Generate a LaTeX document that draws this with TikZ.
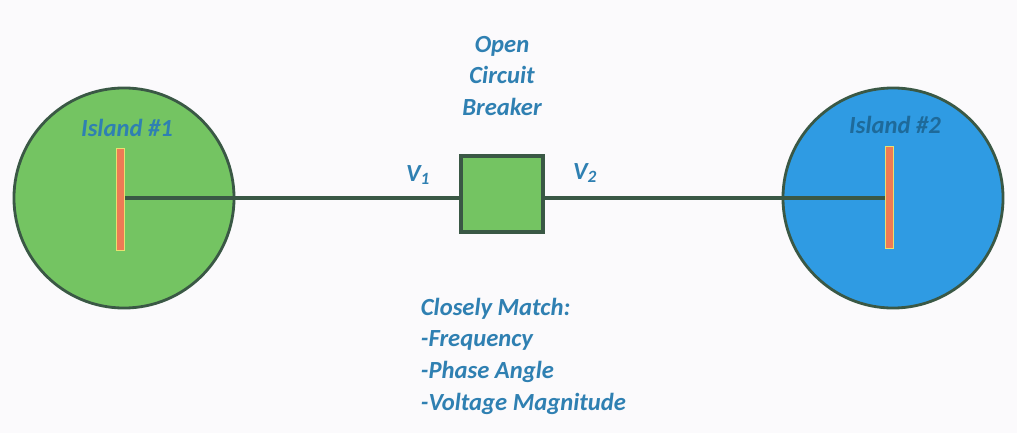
\documentclass[tikz,border=0pt]{standalone}
\usepackage{fontspec}
\setmainfont{Carlito}
\usetikzlibrary{positioning}
\definecolor{igreen}{HTML}{74C462}
\definecolor{iblue}{HTML}{2F9BE3}
\definecolor{iedge}{HTML}{3A5845}
\definecolor{ibar}{HTML}{EE7A55}
\definecolor{ibarrim}{HTML}{E8E070}
\definecolor{itext}{HTML}{2F80B2}
\definecolor{itextdark}{HTML}{1E6A9A}
\definecolor{ipaper}{HTML}{FBFAFC}

\begin{document}
\begin{tikzpicture}[x=0.025cm,y=-0.025cm,
  lbl/.style={text=itext, font=\bfseries\itshape\fontsize{17.5}{22.5}\selectfont},
  island/.style={circle, draw=iedge, line width=2pt, minimum size=5.5cm, inner sep=0pt},
  busbar/.style={rectangle, fill=ibar, draw=ibarrim, line width=0.6pt, minimum width=0.2cm, minimum height=2.55cm, inner sep=0pt},
  line/.style={draw=iedge, line width=3.2pt}]
 \fill[ipaper] (0,0) rectangle (1017,433);
 \useasboundingbox (0,0) rectangle (1017,433);
 % islands
 \node[island, fill=igreen] (isl1) at (124,198) {};
 \node[island, fill=iblue] (isl2) at (893,198) {};
 \node[lbl] (name1) at (127,128) {Island \#1};
 \node[lbl, text=itextdark] (name2) at (895,125) {Island \#2};
 % bus bars
 \node[busbar] (bus1) at (120,199) {};
 \node[busbar] (bus2) at (889,197) {};
 % breaker
 \node[rectangle, fill=igreen, draw=iedge, line width=2.4pt, minimum width=2.05cm, minimum height=1.9cm] (cb) at (502,194) {};
 \draw[line] (bus1.center |- 0,198) -- (cb.west |- 0,198);
 \draw[line] (cb.east |- 0,198) -- (bus2.center |- 0,198);
 \node[busbar] at (bus1) {};
 \node[busbar] at (bus2) {};
 \node[lbl, align=center] (cbname) at (502,76) {Open\\Circuit\\Breaker};
 \node[lbl] (v1) at (418,175) {V\textsubscript{1}};
 \node[lbl] (v2) at (585,173) {V\textsubscript{2}};
 % matching
 \node[lbl, align=left, anchor=north west] (match) at (416,293) {Closely Match:\\-Frequency\\-Phase Angle\\-Voltage Magnitude};
\end{tikzpicture}
\end{document}
